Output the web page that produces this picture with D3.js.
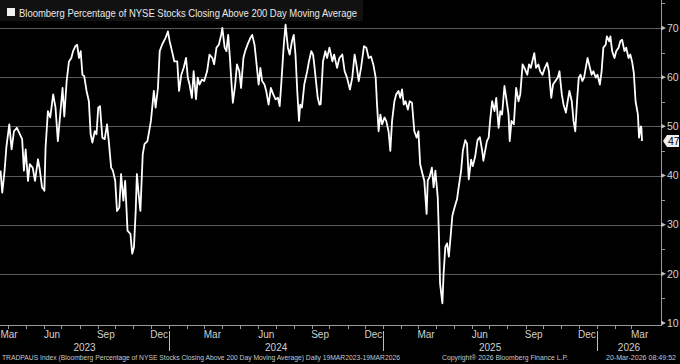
<!DOCTYPE html>
<html><head><meta charset="utf-8">
<script src="https://cdn.jsdelivr.net/npm/d3@7"></script>
<style>html,body{margin:0;padding:0;background:#000;}svg{display:block;}</style>
</head><body>
<svg id="chart" width="680" height="364"></svg>
<script>
const titleText = "Bloomberg Percentage of NYSE Stocks Closing Above 200 Day Moving Average";
const footerLeft = "TRADPAUS Index (Bloomberg Percentage of NYSE Stocks Closing Above 200 Day Moving Average) Daily 19MAR2023-19MAR2026";
const footerMid = "Copyright\u00AE 2026 Bloomberg Finance L.P.";
const footerRight = "20-Mar-2026 08:49:52";
const startDateStr = "2023-03-19";
const endDateStr = "2026-03-19";
// days since start date
const dayOffsets = [0,3,7,10,15,19,23,28,33,37,40,43,47,50,55,59,64,67,71,75,77,81,85,90,94,98,102,106,109,113,117,121,124,128,131,134,137,140,143,147,151,154,157,161,164,167,170,174,178,182,185,189,192,196,199,203,206,210,213,217,222,225,228,231,233,236,239,243,246,251,254,257,262,265,269,272,276,
282,286,289,293,297,302,305,309,313,317,320,323,327,330,334,337,340,344,348,353,357,362,365,369,373,377,379,383,386,389,392,394,397,401,404,408,411,415,418,422,427,430,434,437,441,444,447,451,454,458,462,466,470,474,477,480,484,487,491,494,498,501,504,507,510,512,515,519,524,527,531,534,536,539,542,545,547,
551,555,558,562,567,570,575,579,584,588,592,597,601,605,608,612,616,621,625,629,633,637,641,643,646,649,652,656,659,663,666,669,673,676,680,683,686,689,692,696,699,703,707,711,714,717,721,724,728,730,733,737,740,743,747,749,751,755,757,760,763,766,769,772,775,780,783,787,790,794,797,800,804,807,811,815,819,
823,825,828,831,834,837,840,844,847,851,854,857,861,864,868,870,873,877,881,885,888,892,895,900,903,906,910,912,915,919,922,926,930,934,937,941,944,948,952,955,959,962,966,969,972,976,979,982,985,988,991,994,997,1001,1003,1007,1010,1013,1017,1020,1024,1027,1030,1034,1036,1040,1042,1045,1049,1052,1056,1059,1062,1066,1069,1073,1076,1079,1082,1085,1089,1091,1094,1095,1096];
const values = [41,36.5,41,45.7,50.4,45.3,49,49.7,48.4,47.4,41,45.3,38.9,42.3,41.6,38.9,43.3,41.3,37.6,36.9,45.7,53.1,51.8,56.5,53.8,47,52.4,57.8,52,59.2,63.2,63.9,65.3,66.3,66.6,63.9,65.3,60.5,60.2,57.2,55.1,48.4,46.7,49,48.4,53.8,54.1,47.7,47.4,50.4,47,41.6,41,38.9,32.8,33.5,40.3,34.9,38.9,28.8,28.1,24.1,25.4,32.8,40.3,36.2,32.8,44.3,46.4,47,49,51.1,57.2,53.8,57.8,65.3,66.6,
68,69.3,67.3,65.3,63.2,63.2,57.2,60.5,61.9,63.9,59.9,58.5,55.8,61.2,55.5,59.9,58.5,59.5,59.2,61.2,64.6,63.9,62.6,66,66.6,68.6,70,66,65.3,68.6,63.9,59.9,54.8,58.5,62.6,61.2,57.8,63.9,65.3,66.6,68,68.6,66.6,63.2,58.5,61.9,59.2,58.5,57.2,54.4,57.8,56.5,55.5,55.8,54.1,59.2,66.6,70.7,66,64.6,67.3,68.6,64.6,57.2,51.1,54.4,53.8,58.5,61.2,63.2,65.3,64.6,62.6,59.2,55.8,54.4,54.5,
63.2,65.3,63.9,66,63.2,64.6,61.9,63.9,64.6,61.2,59.9,57.5,59.9,64.6,62.6,59.2,61.9,66.3,66,63.9,64.2,62.6,59.9,55.1,49,52.4,50.4,51.8,51.1,49,45,51.1,55.1,56.5,57.2,55.8,57.5,54.4,55.1,53.4,55.1,54.8,49,47.7,49,42.3,40.3,39,32.2,39,39.7,41.6,37.6,41,35.6,28.1,18,14,20,25.5,26.2,23.5,27.6,31.8,33.2,35.2,37.8,41,45.1,47.2,46.5,39.2,43.2,41.9,43.9,47.2,47.8,
45,43,45,47,47.7,51.8,55.1,53.1,55.8,49.7,53.1,52.4,58.2,55.8,52.4,47,51.1,50.4,57.8,55.1,56.5,62.6,61.9,60.5,62.6,61.9,63.9,64.9,61.9,62.6,61.2,60.5,61.9,62.9,61.2,55.8,58.5,59.2,59.9,61.2,56.5,54.4,52.8,55.1,57.2,55.1,51.1,49,55.1,59.9,60.5,59.2,59.9,62.6,63.9,61.9,60.5,61.2,59.9,60.5,58.5,61.2,66,66.6,68.3,67.3,68.3,65.3,63.9,65.3,66,67.3,67.6,65.3,66,63.9,64.6,63.2,60.9,55.1,52.4,47.7,50,49.7,47];
const yMajorTicks = [10,20,30,40,50,60,70];
const yMinorTicks = [15,25,35,45,55,65,75];
const quarterMonthLabels = {2:"Mar",5:"Jun",8:"Sep",11:"Dec"};
const lastValueLabel = "47";

const svg = d3.select("#chart");
const W = 680, H = 364;
const font = "'Liberation Sans', Arial, sans-serif";
svg.append("rect").attr("width",W).attr("height",H).attr("fill","#000");

const parse = d3.timeParse("%Y-%m-%d");
const startDate = parse(startDateStr), endDate = parse(endDateStr);
const data = dayOffsets.map((d,i)=>({date:d3.timeDay.offset(startDate,d), v:values[i]}));

const plotRight = 661, axisY = 325;
const x = d3.scaleTime().domain([startDate,endDate]).range([0.5,642]);
const y = d3.scaleLinear().domain([10,70]).range([323,28]);

// title band
svg.append("rect").attr("x",0).attr("y",0).attr("width",363).attr("height",21).attr("fill","#111");
svg.append("rect").attr("x",7).attr("y",8).attr("width",8).attr("height",8).attr("fill","#f2f2f2");
svg.append("text").attr("x",19).attr("y",16.5).attr("fill","#e8e8e8")
  .attr("font-family",font).attr("font-size",10.5)
  .attr("textLength",338).attr("lengthAdjust","spacingAndGlyphs").text(titleText);

// gridlines
svg.append("g").selectAll("line").data(yMajorTicks.filter(t=>t>10)).join("line")
  .attr("x1",0).attr("x2",plotRight).attr("y1",d=>Math.round(y(d))+0.5).attr("y2",d=>Math.round(y(d))+0.5)
  .attr("stroke","#5c5c5c").attr("stroke-width",1);

// right axis
const ra = svg.append("g");
ra.append("line").attr("x1",plotRight+0.5).attr("x2",plotRight+0.5).attr("y1",0).attr("y2",axisY)
  .attr("stroke","#9a9a9a");
ra.selectAll("line.minor").data(yMinorTicks).join("line").attr("class","minor")
  .attr("x1",plotRight).attr("x2",plotRight+4).attr("y1",d=>Math.round(y(d))+0.5).attr("y2",d=>Math.round(y(d))+0.5)
  .attr("stroke","#9a9a9a");
ra.selectAll("path.major").data(yMajorTicks).join("path").attr("class","major")
  .attr("d",d=>{const yy=y(d);return `M${plotRight},${yy-2.5}L${plotRight+5},${yy}L${plotRight},${yy+2.5}Z`;})
  .attr("fill","#bdbdbd");
ra.selectAll("text").data(yMajorTicks).join("text")
  .attr("x",plotRight+6).attr("y",d=>y(d)).attr("dy","0.35em")
  .attr("fill","#d4d4d4").attr("font-family",font).attr("font-size",10.5).text(d=>d);

// bottom axis
const ba = svg.append("g");
ba.append("line").attr("x1",0).attr("x2",plotRight+1).attr("y1",axisY+0.5).attr("y2",axisY+0.5).attr("stroke","#9a9a9a");
const months = d3.timeMonth.range(d3.timeMonth.ceil(startDate), endDate);
ba.selectAll("line.mt").data(months).join("line").attr("class","mt")
  .attr("x1",d=>Math.round(x(d))+0.5).attr("x2",d=>Math.round(x(d))+0.5)
  .attr("y1",axisY+1).attr("y2",axisY+4).attr("stroke","#9a9a9a");
const labelMonths = d3.timeMonth.range(d3.timeMonth.floor(startDate), endDate)
  .filter(d=>quarterMonthLabels[d.getMonth()]!==undefined);
ba.selectAll("text.ml").data(labelMonths).join("text").attr("class","ml")
  .attr("x",d=>Math.max(9, x(new Date(d.getFullYear(), d.getMonth(), 15))))
  .attr("y",338).attr("text-anchor","middle")
  .attr("fill","#d0d0d0").attr("font-family",font).attr("font-size",10)
  .text(d=>quarterMonthLabels[d.getMonth()]);
const years = d3.timeYear.range(d3.timeYear.ceil(startDate), endDate);
ba.selectAll("line.ys").data(years).join("line").attr("class","ys")
  .attr("x1",d=>Math.round(x(d))+0.5).attr("x2",d=>Math.round(x(d))+0.5)
  .attr("y1",331).attr("y2",351).attr("stroke","#bdbdbd");
const yearStarts = d3.timeYear.range(d3.timeYear.floor(startDate), endDate);
ba.selectAll("text.yl").data(yearStarts).join("text").attr("class","yl")
  .attr("x",d=>{const a=Math.max(0,x(d)), b=Math.min(plotRight,x(d3.timeYear.offset(d,1)));return (a+b)/2;})
  .attr("y",351).attr("text-anchor","middle")
  .attr("fill","#d0d0d0").attr("font-family",font).attr("font-size",10)
  .text(d=>d.getFullYear());

// line
svg.append("path").datum(data)
  .attr("d",d3.line().x(d=>x(d.date)).y(d=>y(d.v)))
  .attr("fill","none").attr("stroke","#ffffff").attr("stroke-width",1.8).attr("stroke-linejoin","round");

// last value tag
const last = data[data.length-1];
const ty = y(last.v);
svg.append("path").attr("d",`M${plotRight+2},${ty}L${plotRight+6},${ty-6}L${W-1},${ty-6}L${W-1},${ty+6}L${plotRight+6},${ty+6}Z`)
  .attr("fill","#f0f0f0");
svg.append("text").attr("x",plotRight+7).attr("y",ty).attr("dy","0.35em")
  .attr("fill","#000").attr("font-family",font).attr("font-size",10.5).text(lastValueLabel);

// footer
const ft = svg.append("g").attr("fill","#c8c8c8").attr("font-family",font).attr("font-size",7.5);
ft.append("text").attr("x",2).attr("y",360).attr("textLength",398).attr("lengthAdjust","spacingAndGlyphs").text(footerLeft);
ft.append("text").attr("x",442).attr("y",360).attr("textLength",126).attr("lengthAdjust","spacingAndGlyphs").text(footerMid);
ft.append("text").attr("x",606).attr("y",360).attr("textLength",70).attr("lengthAdjust","spacingAndGlyphs").text(footerRight);
</script>
</body></html>
